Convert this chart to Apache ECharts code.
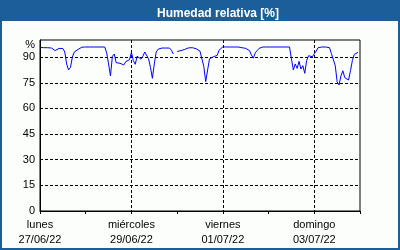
<!DOCTYPE html>
<html><head><meta charset="utf-8">
<script src="https://cdn.jsdelivr.net/npm/echarts@6/dist/echarts.min.js"></script>
<style>html,body{margin:0;padding:0;background:#fcfefc;}#c{width:400px;height:250px;}</style>
</head><body><div id="c"></div>
<script>
// Hourly relative humidity (%) starting Monday 27/06/22 00:00
const day1 = [95.7,95.7,95.5,95.5,95.5,95.4,95.3,95.3,93.8,94.8,95.1,95.1,95.0,93.0,86.0,82.5,84.0,90.0,93.0,93.8,94.5,95.3,95.8,95.9];
const day2 = [95.9,95.9,95.9,95.9,95.9,95.9,95.9,95.9,95.9,95.9,95.9,92.5,86.0,79.0,90.5,91.8,86.7,87.3,86.4,87.3,85.4,87.3,86.4,88.5];
const day3 = [92.8,88.0,85.8,90.5,90.0,88.8,90.5,93.0,93.8,89.0,84.0,77.6,86.0,93.0,94.6,95.3,95.3,95.3,95.3,95.3,95.3,94.0,91.8,null];
const day4 = [93.3,93.6,93.8,94.2,94.5,94.8,95.4,95.7,95.5,95.1,94.9,94.6,93.5,92.5,84.5,75.6,82.5,89.0,88.7,90.2,89.8,91.0,94.0,95.1];
const day5 = [96.0,95.9,95.9,95.9,95.9,95.9,95.9,95.9,95.9,95.1,95.5,94.8,95.1,94.8,93.8,91.2,89.4,92.5,93.8,95.1,95.9,95.9,95.9,95.9];
const day6 = [95.9,95.9,95.9,95.9,95.9,95.9,95.9,95.9,95.9,95.9,95.9,95.9,89.0,82.5,86.0,83.4,87.5,83.0,85.0,80.5,88.0,90.8,91.2,90.2];
const day7 = [92.0,93.5,95.5,95.9,95.9,95.9,95.9,95.9,95.5,92.0,92.2,85.0,75.6,73.7,79.0,82.0,78.0,77.2,76.6,82.0,88.0,91.6,92.5,92.8];
const dayNames = ['lunes','martes','miércoles','jueves','viernes','sábado','domingo','lunes'];
const dayDates = ['27/06/22','28/06/22','29/06/22','30/06/22','01/07/22','02/07/22','03/07/22','04/07/22'];
const yTickLabels = ['0','15','30','45','60','75','90'];
const yUnitLabel = '%';

const values = [].concat(day1, day2, day3, day4, day5, day6, day7);
const seriesData = values.map((v, i) => [i, v]);

const chart = echarts.init(document.getElementById('c'), null, {renderer: 'canvas'});
const FONT = 'Liberation Sans';
chart.setOption({
  backgroundColor: '#fcfefc',
  animation: false,
  title: {
    text: 'Humedad relativa [%]',
    left: 213, top: 3, textAlign: 'center',
    textStyle: {color: '#ffffff', fontFamily: FONT, fontWeight: 'bold', fontSize: 12}
  },
  graphic: [
    {type: 'rect', z: -1, shape: {x: 0, y: 0, width: 400, height: 21}, style: {fill: '#1c5e97'}},
    {type: 'rect', z: -1, shape: {x: 0, y: 0, width: 2, height: 250}, style: {fill: '#1c5e97'}},
    {type: 'rect', z: -1, shape: {x: 398, y: 0, width: 2, height: 250}, style: {fill: '#1c5e97'}},
    {type: 'rect', z: -1, shape: {x: 0, y: 248, width: 400, height: 2}, style: {fill: '#1c5e97'}}
  ],
  grid: {left: 40, top: 40, width: 320, height: 171, show: true, borderColor: '#000', borderWidth: 1, backgroundColor: 'transparent'},
  xAxis: [
    {
      type: 'value', position: 'bottom', min: 0, max: 168, interval: 24,
      axisLine: {show: true, lineStyle: {color: '#000', width: 1}},
      axisTick: {show: true, inside: false, length: 3, lineStyle: {color: '#000'}},
      splitLine: {show: false},
      axisLabel: {
        margin: 6, color: '#000', fontFamily: FONT, fontSize: 11, lineHeight: 15,
        formatter: function (v) {
          const i = Math.round(v / 24);
          if (i % 2 !== 0 || i >= 7) return '';
          return dayNames[i] + '\n' + dayDates[i];
        }
      }
    },
    {
      type: 'value', position: 'top', min: 0, max: 168, interval: 48,
      axisLine: {show: false}, axisTick: {show: false}, axisLabel: {show: false},
      splitLine: {show: true, showMinLine: false, showMaxLine: false, lineStyle: {color: '#000', width: 1, type: [3, 2]}}
    }
  ],
  yAxis: {
    type: 'value', min: 0, max: 100, interval: 15,
    axisLine: {show: true, lineStyle: {color: '#000', width: 1}},
    axisTick: {show: false},
    splitLine: {show: true, showMinLine: false, showMaxLine: false, lineStyle: {color: '#000', width: 1, type: [3, 2]}},
    axisLabel: {
      margin: 5, color: '#000', fontFamily: FONT, fontSize: 11,
      formatter: function (v) {
        if (v >= 100) return '{u|' + yUnitLabel + '}';
        const i = Math.round(v / 15);
        return yTickLabels[i] !== undefined ? yTickLabels[i] : '';
      },
      rich: {u: {fontFamily: FONT, fontSize: 11, color: '#000', padding: [10, 0, 0, 0]}}
    }
  },
  series: [{
    type: 'line', xAxisIndex: 0, data: seriesData,
    showSymbol: false, connectNulls: false,
    lineStyle: {color: '#0000ff', width: 1},
    itemStyle: {color: '#0000ff'}
  }]
});
</script></body></html>
